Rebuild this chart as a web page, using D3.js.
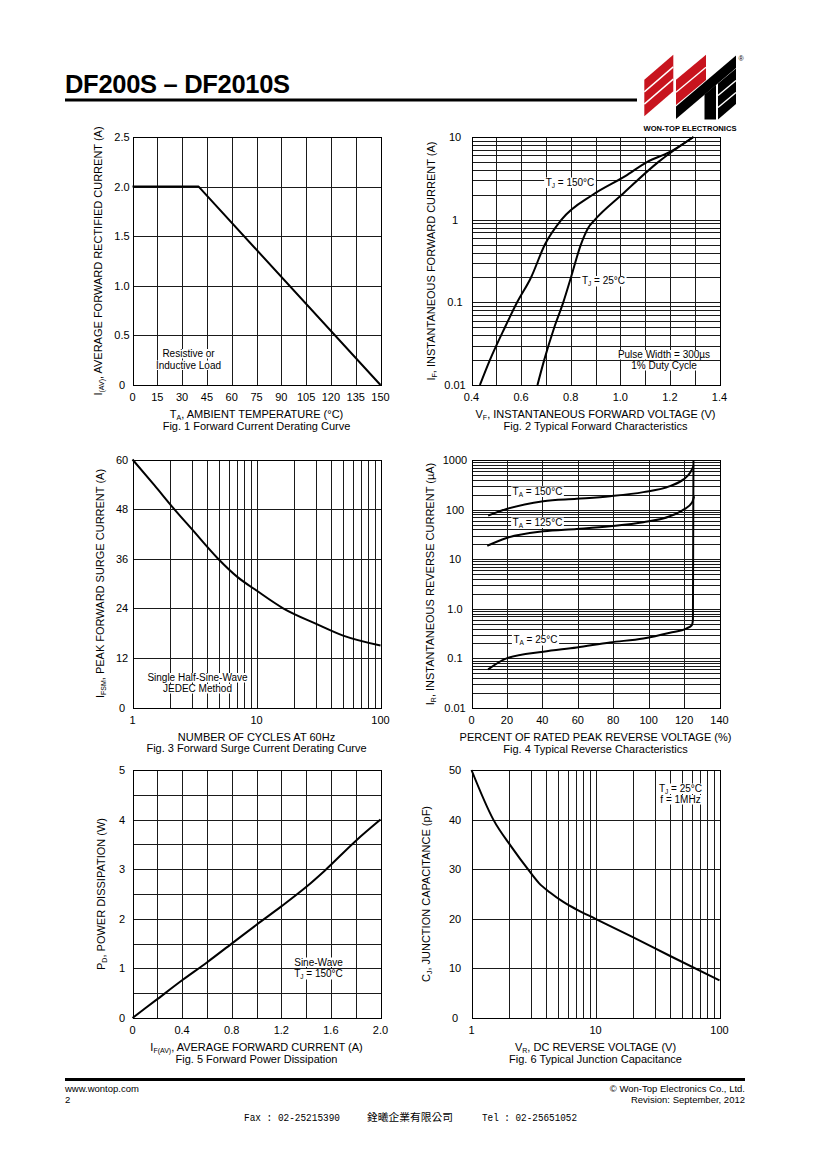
<!DOCTYPE html>
<html><head><meta charset="utf-8">
<script src="https://cdn.jsdelivr.net/npm/d3@7"></script>
<style>
body{margin:0;background:#fff;}
svg{display:block;font-family:"Liberation Sans",Arial,sans-serif;}
</style></head><body>
<svg id="page" width="820" height="1160"></svg>
<script>
// ---------------- DATA ----------------
// Fig. 1 Forward Current Derating Curve
const fig1TempTicks = [0, 15, 30, 45, 60, 75, 90, 105, 120, 135, 150];
const fig1CurrentTicks = [0, 0.5, 1.0, 1.5, 2.0, 2.5];
const fig1CurrentTickLabels = ["0", "0.5", "1.0", "1.5", "2.0", "2.5"];
const fig1Temp = [0, 40, 150];
const fig1Current = [2.0, 2.0, 0];

// Fig. 2 Typical Forward Characteristics
const fig2VoltTicks = [0.4, 0.6, 0.8, 1.0, 1.2, 1.4];
const fig2VoltTickLabels = ["0.4", "0.6", "0.8", "1.0", "1.2", "1.4"];
const fig2CurrTicks = [0.01, 0.1, 1, 10];
const fig2CurrTickLabels = ["0.01", "0.1", "1", "10"];
const fig2Volt150 = [0.434, 0.474, 0.535, 0.584, 0.64, 0.696, 0.763, 0.889, 1.02, 1.109, 1.2, 1.295];
const fig2Curr150 = [0.01, 0.02, 0.05, 0.1, 0.2, 0.5, 1.0, 2.0, 3.36, 5.0, 6.6, 10];
const fig2Volt25 = [0.666, 0.693, 0.734, 0.77, 0.801, 0.841, 0.871, 0.898, 1.006, 1.154, 1.295];
const fig2Curr25 = [0.01, 0.02, 0.05, 0.1, 0.2, 0.5, 0.8, 1.0, 2.0, 5.0, 10];

// Fig. 3 Forward Surge Current Derating Curve
const fig3CycleTicks = [1, 10, 100];
const fig3CycleTickLabels = ["1", "10", "100"];
const fig3CurrentTicks = [0, 12, 24, 36, 48, 60];
const fig3Cycles = [1, 1.5, 2.17, 3, 4.9, 7, 10, 16.4, 30, 50, 100];
const fig3Current = [60, 53.8, 48, 43.2, 36, 31.6, 28.3, 24, 20.3, 17.4, 15.0];

// Fig. 4 Typical Reverse Characteristics
const fig4PctTicks = [0, 20, 40, 60, 80, 100, 120, 140];
const fig4CurrTicks = [0.01, 0.1, 1, 10, 100, 1000];
const fig4CurrTickLabels = ["0.01", "0.1", "1.0", "10", "100", "1000"];
const fig4Pct150 = [9.4, 19.8, 40.5, 59.4, 78.2, 97, 112, 119.7, 123.4, 125.3];
const fig4Cur150 = [76, 103, 148, 165, 186, 225, 298, 407, 551, 755];
const fig4Pct125 = [8.9, 19.8, 40.5, 59.4, 78.2, 97, 112, 119.7, 124.4, 125.7];
const fig4Cur125 = [18.7, 26.8, 36.5, 40.7, 46.1, 55.6, 73.5, 100, 137, 186];
const fig4Pct25 = [9.4, 19.8, 40.5, 59.4, 78.2, 97, 112, 121.5, 124.4, 125.0, 125.3];
const fig4Cur25 = [0.06, 0.1, 0.136, 0.166, 0.21, 0.253, 0.33, 0.404, 0.47, 0.6, 1000];

// Fig. 5 Forward Power Dissipation
const fig5CurrTicks = [0, 0.4, 0.8, 1.2, 1.6, 2.0];
const fig5CurrTickLabels = ["0", "0.4", "0.8", "1.2", "1.6", "2.0"];
const fig5PowerTicks = [0, 1, 2, 3, 4, 5];
const fig5Current = [0, 0.2, 0.4, 0.6, 0.8, 1.0, 1.2, 1.4, 1.55, 1.8, 2.0];
const fig5Power = [0, 0.38, 0.76, 1.12, 1.5, 1.88, 2.25, 2.64, 2.97, 3.57, 4.0];

// Fig. 6 Typical Junction Capacitance
const fig6VoltTicks = [1, 10, 100];
const fig6VoltTickLabels = ["1", "10", "100"];
const fig6CapTicks = [0, 10, 20, 30, 40, 50];
const fig6Volt = [1, 1.5, 2.1, 2.87, 3.5, 4.3, 5.5, 7, 10, 20, 40, 100];
const fig6Cap = [50, 40, 34.5, 29.9, 27.2, 25.3, 23.4, 21.9, 20, 16.3, 12.5, 7.6];

// ---------------- DRAWING ----------------
const svg = d3.select("#page");
const W = 248, H = 248;
const FS = 11;

function logGrid(lo, hi) {
  const out = [];
  for (let e = Math.floor(Math.log10(lo)); e < Math.round(Math.log10(hi)); e++)
    for (let k = 1; k < 10; k++) out.push(k * Math.pow(10, e));
  out.push(hi);
  return out;
}
function rich(sel, parts, subSize) {
  parts.forEach(p => {
    const t = sel.append("tspan").text(p[0]);
    if (p[1] === "sub") { t.attr("font-size", subSize || 7).attr("dy", 2); }
    else if (p[2]) { t.attr("dy", -2); }
  });
}
function note(g, x, y, parts) {
  const t = g.append("text").attr("x", x).attr("y", y).attr("text-anchor", "middle")
    .attr("font-size", 10);
  rich(t, parts, 6.5);
  const b = t.node().getBBox();
  g.insert("rect", () => t.node()).attr("x", b.x - 1.5).attr("y", b.y + 1)
    .attr("width", b.width + 3).attr("height", b.height - 1.5).attr("fill", "#fff");
}

function makePlot(o) {
  const g = svg.append("g");
  const x = (o.xLog ? d3.scaleLog() : d3.scaleLinear()).domain(o.xDomain).range([o.x0, o.x0 + W]);
  const y = (o.yLog ? d3.scaleLog() : d3.scaleLinear()).domain(o.yDomain).range([o.y0 + H, o.y0]);
  const snap = v => Math.round(v) + 0.5;
  g.selectAll(".vg").data(o.xGrid).join("line")
    .attr("x1", d => snap(x(d))).attr("x2", d => snap(x(d)))
    .attr("y1", o.y0).attr("y2", o.y0 + H)
    .attr("stroke", "#1a1a1a").attr("stroke-width", 1).attr("shape-rendering", "crispEdges");
  g.selectAll(".hg").data(o.yGrid).join("line")
    .attr("y1", d => snap(y(d))).attr("y2", d => snap(y(d)))
    .attr("x1", o.x0).attr("x2", o.x0 + W)
    .attr("stroke", "#1a1a1a").attr("stroke-width", 1).attr("shape-rendering", "crispEdges");
  g.append("rect").attr("x", snap(o.x0)).attr("y", snap(o.y0)).attr("width", W).attr("height", H)
    .attr("fill", "none").attr("stroke", "#000").attr("stroke-width", 1.2).attr("shape-rendering", "crispEdges");

  // tick labels
  g.selectAll(".xt").data(o.xTicks).join("text")
    .attr("x", d => x(d)).attr("y", o.y0 + H + 16).attr("text-anchor", "middle")
    .attr("font-size", FS).text((d, i) => o.xTickLabels ? o.xTickLabels[i] : d);
  g.selectAll(".yt").data(o.yTicks).join("text")
    .attr("x", o.x0 - o.yTickOff).attr("y", d => y(d) + 4).attr("text-anchor", "middle")
    .attr("font-size", FS).text((d, i) => o.yTickLabels ? o.yTickLabels[i] : d);

  // axis titles
  const cx = o.x0 + W / 2;
  const xt = g.append("text").attr("x", cx).attr("y", o.y0 + H + 33).attr("text-anchor", "middle").attr("font-size", FS);
  rich(xt, o.xTitle);
  g.append("text").attr("x", cx).attr("y", o.y0 + H + 44.5).attr("text-anchor", "middle").attr("font-size", FS).text(o.caption);
  const yt = g.append("text").attr("transform", `translate(${o.yTitleX + 4},${o.y0 + H / 2}) rotate(-90)`)
    .attr("text-anchor", "middle").attr("font-size", FS);
  rich(yt, o.yTitle);

  // curves
  o.series.forEach(s => {
    const pts = s[0].map((v, i) => [v, s[1][i]]);
    const gen = d3.line().x(d => x(d[0])).y(d => y(d[1]))
      .curve(o.linear ? d3.curveLinear : d3.curveMonotoneX);
    g.append("path").attr("d", gen(pts))
      .attr("fill", "none").attr("stroke", "#000").attr("stroke-width", 2).attr("stroke-linejoin", "round");
  });
  (o.notes || []).forEach(n => note(g, n[0], n[1], n[2]));
}

// Fig 1
makePlot({
  x0: 132.5, y0: 137, xDomain: [0, 150], yDomain: [0, 2.5],
  xGrid: fig1TempTicks, yGrid: fig1CurrentTicks,
  xTicks: fig1TempTicks, yTicks: fig1CurrentTicks, yTickLabels: fig1CurrentTickLabels, yTickOff: 10.5,
  xTitle: [["T"], ["A", "sub"], [", AMBIENT TEMPERATURE (°C)", null, true]],
  caption: "Fig. 1 Forward Current Derating Curve",
  yTitle: [["I"], ["(AV)", "sub"], [", AVERAGE FORWARD RECTIFIED CURRENT (A)", null, true]], yTitleX: 98,
  series: [[fig1Temp, fig1Current]], linear: true,
  notes: [[188.5, 357, [["Resistive or"]]], [188.5, 368.5, [["Inductive Load"]]]]
});
// Fig 2
makePlot({
  x0: 471.5, y0: 137, xDomain: [0.4, 1.4], yDomain: [0.01, 10], yLog: true,
  xGrid: d3.range(0, 11).map(i => 0.4 + i * 0.1), yGrid: logGrid(0.01, 10),
  xTicks: fig2VoltTicks, xTickLabels: fig2VoltTickLabels, yTicks: fig2CurrTicks, yTickLabels: fig2CurrTickLabels, yTickOff: 16.5,
  xTitle: [["V"], ["F", "sub"], [", INSTANTANEOUS FORWARD VOLTAGE (V)", null, true]],
  caption: "Fig. 2 Typical Forward Characteristics",
  yTitle: [["I"], ["F", "sub"], [", INSTANTANEOUS FORWARD CURRENT (A)", null, true]], yTitleX: 431,
  series: [[fig2Volt150, fig2Curr150], [fig2Volt25, fig2Curr25]],
  notes: [[570, 185.5, [["T"], ["J", "sub"], [" = 150°C", null, true]]],
          [603.5, 284, [["T"], ["J", "sub"], [" = 25°C", null, true]]],
          [664, 358, [["Pulse Width = 300µs"]]], [664, 369, [["1% Duty Cycle"]]]]
});
// Fig 3
makePlot({
  x0: 132.5, y0: 459.5, xDomain: [1, 100], xLog: true, yDomain: [0, 60],
  xGrid: logGrid(1, 100), yGrid: fig3CurrentTicks,
  xTicks: fig3CycleTicks, xTickLabels: fig3CycleTickLabels, yTicks: fig3CurrentTicks, yTickOff: 10.5,
  xTitle: [["NUMBER OF CYCLES AT 60Hz"]],
  caption: "Fig. 3 Forward Surge Current Derating Curve",
  yTitle: [["I"], ["FSM", "sub"], [", PEAK FORWARD SURGE CURRENT (A)", null, true]], yTitleX: 99.5,
  series: [[fig3Cycles, fig3Current]],
  notes: [[197.5, 681, [["Single Half-Sine-Wave"]]], [197.5, 692, [["JEDEC Method"]]]]
});
// Fig 4
makePlot({
  x0: 471.5, y0: 460, xDomain: [0, 140], yDomain: [0.01, 1000], yLog: true,
  xGrid: fig4PctTicks, yGrid: logGrid(0.01, 1000),
  xTicks: fig4PctTicks, yTicks: fig4CurrTicks, yTickLabels: fig4CurrTickLabels, yTickOff: 16.5,
  xTitle: [["PERCENT OF RATED PEAK REVERSE VOLTAGE (%)"]],
  caption: "Fig. 4 Typical Reverse Characteristics",
  yTitle: [["I"], ["R", "sub"], [", INSTANTANEOUS REVERSE CURRENT (µA)", null, true]], yTitleX: 430,
  series: [[fig4Pct150, fig4Cur150], [fig4Pct125, fig4Cur125], [fig4Pct25, fig4Cur25]],
  notes: [[537.5, 494.5, [["T"], ["A", "sub"], [" = 150°C", null, true]]],
          [537.5, 525.5, [["T"], ["A", "sub"], [" = 125°C", null, true]]],
          [535.5, 643, [["T"], ["A", "sub"], [" = 25°C", null, true]]]]
});
// Fig 5
makePlot({
  x0: 132.5, y0: 770, xDomain: [0, 2.0], yDomain: [0, 5],
  xGrid: d3.range(0, 11).map(i => i * 0.2), yGrid: d3.range(0, 11).map(i => i * 0.5),
  xTicks: fig5CurrTicks, xTickLabels: fig5CurrTickLabels, yTicks: fig5PowerTicks, yTickOff: 10.5,
  xTitle: [["I"], ["F(AV)", "sub"], [", AVERAGE FORWARD CURRENT (A)", null, true]],
  caption: "Fig. 5 Forward Power Dissipation",
  yTitle: [["P"], ["D", "sub"], [", POWER DISSIPATION (W)", null, true]], yTitleX: 101,
  series: [[fig5Current, fig5Power]],
  notes: [[318.5, 965.5, [["Sine-Wave"]]], [318.5, 977, [["T"], ["J", "sub"], [" = 150°C", null, true]]]]
});
// Fig 6
makePlot({
  x0: 471.5, y0: 770, xDomain: [1, 100], xLog: true, yDomain: [0, 50],
  xGrid: logGrid(1, 100), yGrid: fig6CapTicks,
  xTicks: fig6VoltTicks, xTickLabels: fig6VoltTickLabels, yTicks: fig6CapTicks, yTickOff: 16.5,
  xTitle: [["V"], ["R", "sub"], [", DC REVERSE VOLTAGE (V)", null, true]],
  caption: "Fig. 6 Typical Junction Capacitance",
  yTitle: [["C"], ["J", "sub"], [", JUNCTION CAPACITANCE (pF)", null, true]], yTitleX: 426,
  series: [[fig6Volt, fig6Cap]],
  notes: [[680.5, 791.5, [["T"], ["J", "sub"], [" = 25°C", null, true]]], [680.5, 803, [["f = 1MHz"]]]]
});

// ---------------- HEADER ----------------
svg.append("text").attr("x", 65).attr("y", 93).attr("font-size", 25.5).attr("font-weight", "bold")
  .attr("letter-spacing", -0.3).text("DF200S – DF2010S");
svg.append("rect").attr("x", 65).attr("y", 98.5).attr("width", 572).attr("height", 3).attr("fill", "#000");

const logo = svg.append("g");
const red = "#c8141e";
logo.append("polygon").attr("points", "644.3,79.7 673.3,54.7 673.3,91.3 644.3,116.3").attr("fill", red);
logo.append("polygon").attr("points", "676,79.7 706,54.7 706,80 676,105").attr("fill", red);
logo.append("polygon").attr("points", "676,106.5 736,55.5 736,68 676,119").attr("fill", "#000");
logo.append("polygon").attr("points", "704.5,94.5 716,84.8 716,119.5 704.5,119.5").attr("fill", "#000");
logo.append("polygon").attr("points", "718,83.5 736,68.5 736,104 718,119.5").attr("fill", "#000");
[[644.3, 91.9, 673.3, 66.9], [644.3, 104.1, 673.3, 79.1], [676, 92.3, 706, 67.3],
 [718, 95.5, 736, 80.5], [718, 107.5, 736, 92.5]].forEach(l =>
  logo.append("line").attr("x1", l[0]).attr("y1", l[1]).attr("x2", l[2]).attr("y2", l[3])
    .attr("stroke", "#fff").attr("stroke-width", 1.4));
logo.append("text").attr("x", 690).attr("y", 130.5).attr("text-anchor", "middle").attr("font-size", 7.5)
  .attr("font-weight", "bold").attr("textLength", 93).attr("lengthAdjust", "spacingAndGlyphs").text("WON-TOP ELECTRONICS");
logo.append("text").attr("x", 741).attr("y", 61).attr("text-anchor", "middle").attr("font-size", 7).text("®");

// ---------------- FOOTER ----------------
svg.append("rect").attr("x", 65).attr("y", 1078).attr("width", 680).attr("height", 3).attr("fill", "#000");
svg.append("text").attr("x", 65).attr("y", 1091.5).attr("font-size", 9.5).text("www.wontop.com");
svg.append("text").attr("x", 65).attr("y", 1102.5).attr("font-size", 9.5).text("2");
svg.append("text").attr("x", 745).attr("y", 1091.5).attr("text-anchor", "end").attr("font-size", 9.5).text("© Won-Top Electronics Co., Ltd.");
svg.append("text").attr("x", 745).attr("y", 1102.5).attr("text-anchor", "end").attr("font-size", 9.5).text("Revision: September, 2012");
svg.append("text").attr("x", 244).attr("y", 1121).attr("font-size", 10.5).attr("font-family", "Liberation Mono, DejaVu Sans Mono, monospace")
  .attr("textLength", 96).attr("lengthAdjust", "spacingAndGlyphs").text("Fax : 02-25215390");
svg.append("text").attr("x", 367).attr("y", 1121).attr("font-size", 10.5).attr("font-family", "Noto Sans CJK TC")
  .attr("textLength", 86).attr("lengthAdjust", "spacingAndGlyphs").text("銓曦企業有限公司");
svg.append("text").attr("x", 482).attr("y", 1121).attr("font-size", 10.5).attr("font-family", "Liberation Mono, DejaVu Sans Mono, monospace")
  .attr("textLength", 95).attr("lengthAdjust", "spacingAndGlyphs").text("Tel : 02-25651052");
</script>
</body></html>
